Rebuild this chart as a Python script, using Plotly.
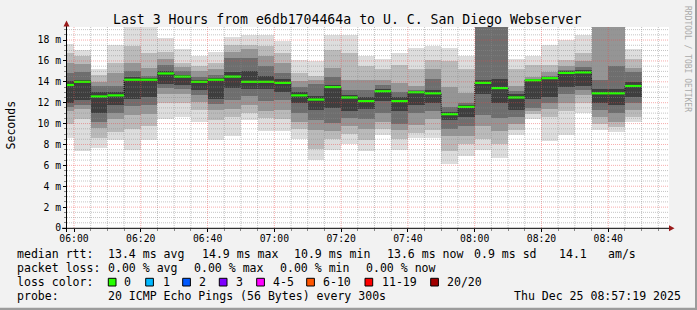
import plotly.graph_objects as go
import pandas as pd

# ---------------- data (ms) ----------------
bucket_end = pd.date_range("2025-12-25 06:00", periods=35, freq="5min")

median = [13.7, 14.0, 12.6, 12.7, 14.2, 14.2, 14.8, 14.5, 14.0, 14.2, 14.5, 14.0, 14.0, 13.9, 12.7, 12.3, 13.5, 12.5,
          12.15, 13.1, 12.15, 13.0, 12.9, 10.9, 11.6, 13.9, 13.4, 12.5, 14.15, 14.35, 14.85, 14.9, 12.9, 12.9, 13.6]

# smoke: sorted-ping ranks (1..20); pairs (1,20) (3,18) (5,16) (7,14) (9,12)
p01 = [8.6, 7.4, 7.7, 8.4, 7.5, 8.4, 10.4, 10.6, 10.2, 8.4, 8.8, 10.3, 9.3, 9.3, 8.5, 6.5, 7.5, 8.0, 7.35, 8.9, 7.5,
       8.65, 8.65, 6.1, 6.9, 7.5, 6.7, 8.9, 10.4, 8.3, 8.9, 11.0, 9.4, 9.2, 10.2]
p20 = [17.6, 17.0, 15.2, 17.5, 20.0, 20.0, 18.2, 17.1, 16.5, 16.9, 18.3, 18.5, 18.5, 17.9, 16.1, 16.0, 18.5, 18.5, 16.5,
       16.2, 16.75, 17.2, 17.4, 17.2, 16.5, 25.0, 25.0, 16.2, 16.5, 17.5, 18.0, 18.45, 25.0, 25.0, 17.1]
p03 = [10.0, 10.4, 8.6, 9.2, 9.5, 9.8, 12.0, 12.0, 11.3, 10.3, 10.6, 11.0, 10.5, 10.4, 9.5, 7.6, 8.5, 9.0, 8.4, 9.5, 8.5,
       9.1, 9.4, 7.4, 8.0, 8.5, 8.0, 9.4, 10.9, 10.6, 11.2, 12.0, 10.0, 9.7, 10.6]
p18 = [16.8, 16.5, 14.7, 15.8, 17.4, 16.8, 16.9, 15.8, 15.5, 15.8, 17.5, 17.5, 17.4, 16.8, 14.8, 14.6, 17.0, 16.8, 15.5,
       15.2, 15.6, 15.2, 16.1, 16.0, 15.2, 24.0, 24.0, 15.2, 15.6, 15.6, 16.1, 16.8, 23.0, 23.0, 16.2]
p05 = [11.2, 11.4, 9.6, 10.4, 10.8, 10.9, 12.8, 12.8, 12.1, 11.3, 11.4, 11.8, 11.2, 11.3, 10.2, 9.4, 9.3, 9.8, 9.5, 10.2,
       9.4, 9.9, 10.4, 8.8, 8.8, 9.8, 9.3, 10.0, 11.2, 11.4, 12.0, 12.7, 10.6, 10.2, 11.3]
p16 = [15.8, 15.7, 14.0, 14.8, 15.8, 15.3, 16.2, 15.4, 15.0, 15.2, 16.9, 17.1, 16.5, 15.8, 14.1, 14.2, 15.3, 14.2, 14.2,
       14.2, 13.9, 13.6, 15.2, 13.5, 12.9, 22.0, 22.0, 13.6, 14.5, 14.9, 15.5, 16.0, 20.5, 20.5, 15.3]
p07 = [11.6, 11.8, 10.2, 11.0, 11.7, 11.8, 13.4, 13.3, 12.7, 11.9, 12.3, 12.6, 12.2, 12.3, 11.0, 10.3, 10.1, 10.5, 10.4,
       11.0, 10.0, 11.0, 11.2, 9.5, 9.8, 10.8, 10.5, 10.6, 11.5, 12.0, 12.8, 13.2, 11.3, 11.0, 12.0]
p14 = [14.8, 14.9, 13.6, 13.6, 15.0, 14.6, 15.6, 15.0, 14.5, 14.7, 16.3, 16.3, 15.5, 14.8, 13.5, 13.8, 14.5, 13.2, 13.2,
       13.7, 13.0, 13.2, 14.3, 11.6, 12.0, 20.5, 20.5, 13.1, 14.3, 14.6, 15.1, 15.4, 14.2, 15.5, 14.9]
p09 = [12.0, 12.3, 11.0, 11.8, 12.4, 12.5, 13.8, 13.7, 13.2, 12.4, 13.4, 13.3, 13.3, 13.0, 12.0, 11.3, 11.5, 11.2, 11.4,
       12.2, 11.2, 11.8, 12.0, 10.3, 10.6, 12.8, 12.0, 11.3, 12.4, 12.5, 13.5, 13.6, 12.0, 11.8, 12.5]
p12 = [14.1, 14.2, 13.0, 13.0, 14.5, 14.4, 15.0, 14.7, 14.2, 14.4, 14.9, 15.0, 14.6, 14.3, 13.0, 12.6, 13.7, 12.7, 12.5,
       13.3, 12.5, 13.1, 13.2, 11.1, 11.8, 14.2, 14.3, 12.8, 14.25, 14.5, 15.0, 15.1, 13.3, 13.3, 14.0]

y_tick_vals = [0, 2, 4, 6, 8, 10, 12, 14, 16, 18]
y_tick_text = ["0", "2 m", "4 m", "6 m", "8 m", "10 m", "12 m", "14 m", "16 m", "18 m"]

stats_rtt = [("median rtt:", 16), ("13.4 ms avg", 107.3), ("14.9 ms max", 200.7), ("10.9 ms min", 293.3),
             ("13.6 ms now", 386), ("0.9 ms sd", 473.3), ("14.1", 558.3), ("am/s", 606.7)]
stats_loss = [("packet loss:", 16), ("0.00 % avg", 107.3), ("0.00 % max", 193.3), ("0.00 % min", 279.3),
              ("0.00 % now", 365)]
loss_labels = ["0", "1", "2", "3", "4-5", "6-10", "11-19", "20/20"]
loss_colors = ["#26ff00", "#00b8ff", "#0059ff", "#7e00ff", "#ff00ff", "#ff5500", "#ff0000", "#a10000"]
loss_box_x = [108.3, 145.7, 182.7, 219.3, 256.7, 306.7, 365.0, 430.7]
loss_text_x = [123.3, 161.7, 198.3, 235.0, 271.7, 321.7, 380.7, 446.0]
probe_rows = [("probe:", 16), ("20 ICMP Echo Pings (56 Bytes) every 300s", 107.3),
              ("Thu Dec 25 08:57:19 2025", 513.3)]
title = "Last 3 Hours from e6db1704464a to U. C. San Diego Webserver"

# ---------------- geometry ----------------
W, H = 697, 310
L, R, T, B = 67, 28, 27, 82
PW, PH = W - L - R, H - T - B
MONO = "DejaVu Sans Mono"


def px(x):
    return (x - L) / PW


def py(y):
    return (H - B - y) / PH


step = pd.Timedelta(minutes=5)
centers = bucket_end - step / 2
starts = bucket_end - step

fig = go.Figure()

layers = [(p01, p20, "#dddddd"), (p03, p18, "#bababa"), (p05, p16, "#959595"),
          (p07, p14, "#6e6e6e"), (p09, p12, "#3e3e3e")]
for lo, hi, col in layers:
    fig.add_bar(x=centers, base=lo, y=[h - l for h, l in zip(hi, lo)], width=300000,
                marker=dict(color=col, line=dict(width=0)), hoverinfo="skip", showlegend=False)

# dotted black median step line
fig.add_scatter(x=list(starts) + [bucket_end[-1]], y=median + [median[-1]], mode="lines",
                line=dict(color="#000000", width=1, dash="1px,1px", shape="hv"),
                hoverinfo="skip", showlegend=False)

# green median segments
gx, gy = [], []
for s, e, m in zip(starts, bucket_end, median):
    gx += [s, e, None]
    gy += [m, m, None]
fig.add_scatter(x=gx, y=gy, mode="lines", line=dict(color="#26ff00", width=2.2),
                hoverinfo="skip", showlegend=False)

shapes = []
# grid (drawn above the smoke, as rrdtool does)
grid_times = pd.date_range("2025-12-25 06:00", "2025-12-25 08:55", freq="5min")
for t in grid_times:
    major = t.minute % 20 == 0
    shapes.append(dict(type="line", xref="x", yref="paper", x0=t, x1=t, y0=0, y1=1, layer="above",
                       line=dict(color="rgba(235,70,70,0.45)" if major else "rgba(140,140,140,0.5)",
                                 width=1, dash="1px,1px")))
v = 0.5
while v <= 19.01:
    major = abs(v / 2 - round(v / 2)) < 1e-9
    shapes.append(dict(type="line", xref="paper", yref="y", x0=0, x1=1, y0=v, y1=v, layer="above",
                       line=dict(color="rgba(235,70,70,0.45)" if major else "rgba(140,140,140,0.5)",
                                 width=1, dash="1px,1px")))
    v += 0.5

# axes lines and arrows
shapes.append(dict(type="line", xref="paper", yref="paper", x0=px(62), x1=px(670), y0=py(228.3), y1=py(228.3),
                   line=dict(color="black", width=1), layer="above"))
shapes.append(dict(type="line", xref="paper", yref="paper", x0=px(66.5), x1=px(66.5), y0=py(232), y1=py(25),
                   line=dict(color="black", width=1), layer="above"))
shapes.append(dict(type="path", xref="paper", yref="paper", layer="above",
                   path=f"M {px(669)},{py(225.3)} L {px(674.5)},{py(228.3)} L {px(669)},{py(231.3)} Z",
                   fillcolor="#9a1a1a", line=dict(width=0)))
shapes.append(dict(type="path", xref="paper", yref="paper", layer="above",
                   path=f"M {px(63.5)},{py(26.5)} L {px(66.5)},{py(20.5)} L {px(69.5)},{py(26.5)} Z",
                   fillcolor="#9a1a1a", line=dict(width=0)))

# loss colour boxes
for bx, c in zip(loss_box_x, loss_colors):
    shapes.append(dict(type="rect", xref="paper", yref="paper", x0=px(bx), x1=px(bx + 7.7),
                       y0=py(286), y1=py(278.3), fillcolor=c, line=dict(color="black", width=1)))

# frame shading
shapes.append(dict(type="rect", xref="paper", yref="paper", x0=px(695), x1=px(697), y0=py(0), y1=py(310),
                   fillcolor="#9c9c9c", line=dict(width=0)))
shapes.append(dict(type="rect", xref="paper", yref="paper", x0=px(0), x1=px(697), y0=py(307.7), y1=py(310),
                   fillcolor="#9c9c9c", line=dict(width=0)))

ann = []


def text(s, x, y, size=11.55, anchor="left", color="black", angle=0):
    ann.append(dict(text=s, xref="paper", yref="paper", x=px(x), y=py(y), xanchor=anchor, yanchor="middle",
                    showarrow=False, borderpad=0, textangle=angle,
                    font=dict(family=MONO, size=size, color=color)))


text(title, 347.3, 19.5, size=13.2, anchor="center")
text("Seconds", 10, 125.5, anchor="center", angle=-90)
text("RRDTOOL / TOBI OETIKER", 688, 59, size=8, anchor="center", color="#aaaaaa", angle=90)
for s, x in stats_rtt:
    text(s, x, 254.3)
for s, x in stats_loss:
    text(s, x, 268.3)
text("loss color:", 16, 282.3)
for s, x in zip(loss_labels, loss_text_x):
    text(s, x, 282.3)
for s, x in probe_rows:
    text(s, x, 296.2)

fig.update_layout(
    width=W, height=H, margin=dict(l=L, r=R, t=T, b=B, pad=0, autoexpand=False),
    paper_bgcolor="#f2f2f2", plot_bgcolor="#ffffff",
    barmode="overlay", bargap=0, hovermode=False, showlegend=False,
    shapes=shapes, annotations=ann,
    font=dict(family=MONO, size=9.75, color="black"),
)
fig.update_xaxes(type="date", range=["2025-12-25 05:57:54", "2025-12-25 08:58:12"],
                 tick0="2025-12-25 06:00", dtick=20 * 60 * 1000, tickformat="%H:%M",
                 showgrid=False, zeroline=False, showline=False, automargin=False,
                 ticks="outside", ticklen=3, tickcolor="black", ticklabelstandoff=-2,
                 minor=dict(ticks="outside", ticklen=2, dtick=5 * 60 * 1000, tickcolor="#888888", showgrid=False),
                 tickfont=dict(family=MONO, size=9.75, color="black"))
fig.update_yaxes(range=[0, 19.25], tickvals=y_tick_vals, ticktext=y_tick_text,
                 showgrid=False, zeroline=False, showline=False, automargin=False,
                 ticks="outside", ticklen=3, tickcolor="black",
                 minor=dict(ticks="outside", ticklen=2, dtick=0.5, tickcolor="#888888", showgrid=False),
                 tickfont=dict(family=MONO, size=9.75, color="black"))

fig.write_html("out.html")
